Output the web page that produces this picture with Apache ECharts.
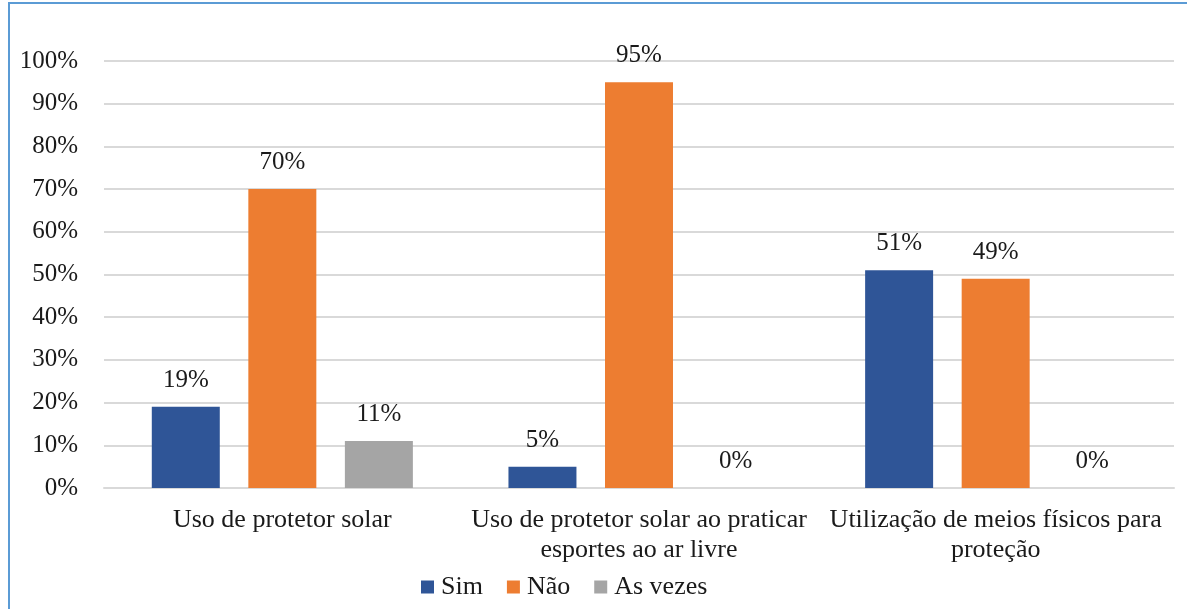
<!DOCTYPE html>
<html><head><meta charset="utf-8">
<script src="https://cdn.jsdelivr.net/npm/echarts@6/dist/echarts.min.js"></script>
<style>
html,body{margin:0;padding:0;background:#fff;overflow:hidden;}
#frame{position:absolute;left:8px;top:2px;width:1200px;height:700px;border-left:2px solid #5B9BD5;border-top:2px solid #5B9BD5;}
#c{position:absolute;left:0;top:0;width:1187px;height:609px;}
</style></head>
<body>
<div id="frame"></div>
<div id="c"></div>
<script>
const categories = ["Uso de protetor solar", "Uso de protetor solar ao praticar\nesportes ao ar livre", "Utilização de meios físicos para\nproteção"];
const seriesNames = ["Sim", "Não", "As vezes"];
const sim = [19, 5, 51];
const nao = [70, 95, 49];
const asVezes = [11, 0, 0];
const colors = ["#2F5597", "#ED7D31", "#A5A5A5"];
const font = "'Liberation Serif', 'Times New Roman', serif";

const chart = echarts.init(document.getElementById('c'));
const mk = (name, data, color) => ({
  name, type: 'bar', data, barGap: '42%', barCategoryGap: '26.8%',
  itemStyle: {color},
  label: {show: true, position: 'top', distance: 14, formatter: '{c}%', fontFamily: font, fontSize: 25, color: '#1a1a1a'}
});
chart.setOption({
  animation: false,
  textStyle: {fontFamily: font},
  grid: {left: 104, right: 13, top: 61, bottom: 121},
  legend: {
    top: 574, left: 421, padding: 0, itemWidth: 13, itemHeight: 13, itemGap: 24,
    icon: 'rect',
    textStyle: {fontFamily: font, fontSize: 26, color: '#1a1a1a', padding: [0, 0, 0, 2]},
    data: seriesNames
  },
  xAxis: {
    type: 'category', data: categories,
    axisLine: {lineStyle: {color: '#d9d9d9', width: 2}},
    axisTick: {show: false},
    axisLabel: {fontFamily: font, fontSize: 26, color: '#1a1a1a', margin: 17, lineHeight: 30, interval: 0}
  },
  yAxis: {
    type: 'value', min: 0, max: 100, interval: 10,
    axisLabel: {formatter: '{value}%', fontFamily: font, fontSize: 25, color: '#1a1a1a', margin: 26},
    splitLine: {lineStyle: {color: '#d9d9d9', width: 2}},
    axisLine: {show: false}, axisTick: {show: false}
  },
  series: [mk(seriesNames[0], sim, colors[0]), mk(seriesNames[1], nao, colors[1]), mk(seriesNames[2], asVezes, colors[2])]
});
</script>
</body></html>
